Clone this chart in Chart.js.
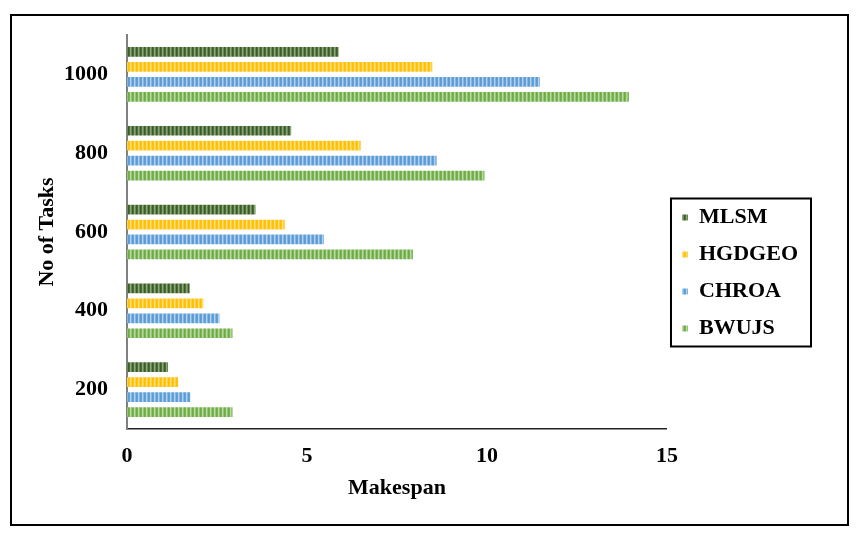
<!DOCTYPE html>
<html lang="en">
<head>
<meta charset="UTF-8">
<title>Makespan vs No of Tasks</title>
<script src="https://cdn.jsdelivr.net/npm/chart.js@4.4.0/dist/chart.umd.min.js"></script>
<style>
  html, body { margin: 0; padding: 0; background: #fff; }
  .wrap { position: relative; width: 862px; height: 539px; }
  .frame { position: absolute; left: 10px; top: 14px; width: 839px; height: 512px; box-sizing: border-box; border: 2px solid #000; pointer-events: none; }
  canvas { position: absolute; left: 0; top: 0; }
</style>
</head>
<body>
<div class="wrap">
  <canvas id="makespanChart" width="862" height="539"></canvas>
  <div class="frame"></div>
</div>
<script>
// top-to-bottom order, as in the figure
const tasks = ['1000', '800', '600', '400', '200'];
const mlsm = [5.88, 4.56, 3.57, 1.74, 1.14];
const hgdgeo = [8.48, 6.49, 4.38, 2.12, 1.42];
const chroa = [11.47, 8.60, 5.47, 2.57, 1.76];
const bwujs = [13.94, 9.93, 7.94, 2.93, 2.93];
const xTicks = [0, 5, 10, 15];

const FONT = { family: '"Liberation Serif", "Times New Roman", serif', size: 22, weight: 'bold' };

const canvas = document.getElementById('makespanChart');
const ctx = canvas.getContext('2d');

// vertical striped fill like the office-style pattern
function stripes(colors) {
    const c = document.createElement('canvas');
    c.width = colors.length;
    c.height = 1;
    const g = c.getContext('2d');
    colors.forEach((col, i) => { g.fillStyle = col; g.fillRect(i, 0, 1, 1); });
    return ctx.createPattern(c, 'repeat');
}

const fills = {
    mlsm: stripes(['#3b5b27', '#4d6e38', '#8ba67a', '#6a8a55']),
    hgdgeo: stripes(['#ffc000', '#ffc514', '#ffdf80', '#ffd045']),
    chroa: stripes(['#5b9bd5', '#66a3d8', '#b0d0ee', '#86b6e2']),
    bwujs: stripes(['#6eaa45', '#7ab453', '#b9d9a3', '#96c577'])
};

const legendFrame = {
    id: 'legendFrame',
    afterDraw(chart) {
        const boxes = chart.legend && chart.legend.legendHitBoxes;
        if (!boxes || !boxes.length) return;
        const left = Math.min(...boxes.map(b => b.left)) - 11;
        const right = Math.max(...boxes.map(b => b.left + b.width)) + 13;
        const top = boxes[0].top - 8;
        const last = boxes[boxes.length - 1];
        const bottom = last.top + last.height + 7;
        const c = chart.ctx;
        c.save();
        c.strokeStyle = '#000';
        c.lineWidth = 2;
        c.strokeRect(left, top, right - left, bottom - top);
        c.restore();
    }
};

new Chart(ctx, {
    type: 'bar',
    data: {
        labels: tasks,
        datasets: [
            { label: 'MLSM', data: mlsm, backgroundColor: fills.mlsm },
            { label: 'HGDGEO', data: hgdgeo, backgroundColor: fills.hgdgeo },
            { label: 'CHROA', data: chroa, backgroundColor: fills.chroa },
            { label: 'BWUJS', data: bwujs, backgroundColor: fills.bwujs }
        ]
    },
    options: {
        indexAxis: 'y',
        responsive: false,
        animation: false,
        borderWidth: 0,
        categoryPercentage: 0.76,
        barPercentage: 0.65,
        layout: { padding: { left: 0, top: 35, right: 54, bottom: 28 } },
        plugins: {
            tooltip: { enabled: false },
            legend: {
                position: 'right',
                labels: { font: FONT, color: '#000', boxWidth: 6, boxHeight: 6, padding: 15 }
            }
        },
        scales: {
            x: {
                min: 0,
                max: 15,
                afterBuildTicks: s => { s.ticks = xTicks.map(v => ({ value: v })); },
                afterFit: s => { s.height = 82; },
                grid: { display: false, drawTicks: false },
                border: { display: true, color: '#222', width: 1.5 },
                ticks: { font: FONT, color: '#000', padding: 14 },
                title: { display: true, text: 'Makespan', font: FONT, color: '#000', padding: { top: 0, bottom: 9 } }
            },
            y: {
                afterFit: s => { s.width = 127; },
                grid: { display: false, drawTicks: false },
                border: { display: true, color: '#808080', width: 2 },
                ticks: { font: FONT, color: '#000', padding: 19 },
                title: { display: true, text: 'No of Tasks', font: FONT, color: '#000', padding: { top: 34, bottom: 0 } }
            }
        }
    },
    plugins: [legendFrame]
});
</script>
</body>
</html>
